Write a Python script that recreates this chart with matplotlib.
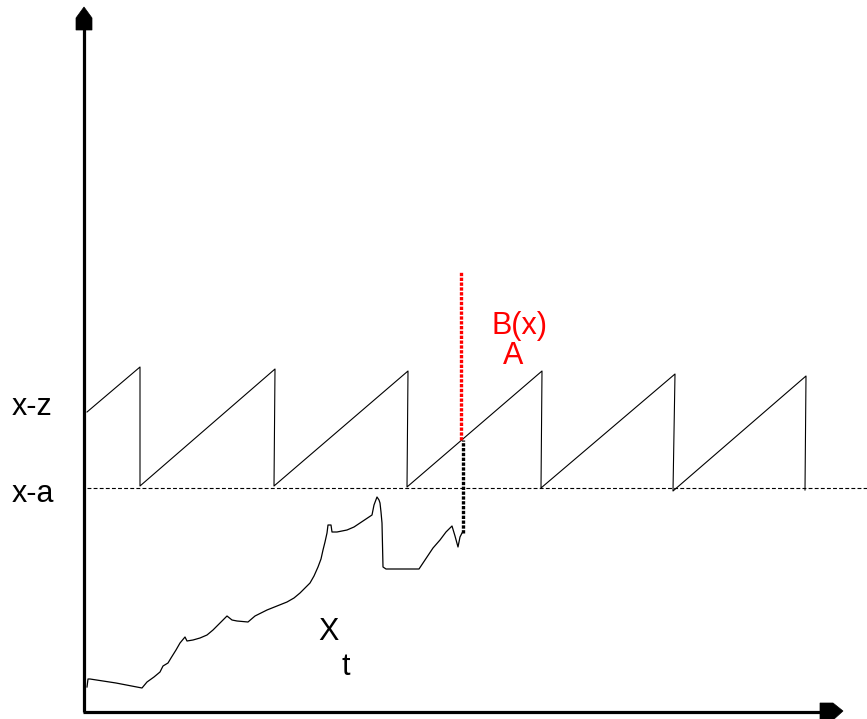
"""Sketch of a sawtooth barrier x-z / x-a and a rising path X_t hitting it."""

from __future__ import annotations

import matplotlib

matplotlib.use("Agg")

import matplotlib.pyplot as plt
import numpy as np
from matplotlib.patches import Polygon

# sawtooth barrier: (time, level) vertices
SAW_T = [1, 54, 54, 189, 188, 322, 321, 456, 455, 589, 587, 720, 719]
SAW_Y = [300, 345, 226, 343, 226, 341, 225, 341, 224, 338, 221, 336, 222]

# path X_t
PATH_T = [1, 2, 4, 30, 56, 61, 68, 74, 77, 82, 85, 90, 94, 99, 101, 107, 114, 121, 127, 134,
          141, 146, 151, 162, 169, 175, 181, 191, 201, 208, 214, 219, 224, 228, 232, 235,
          237, 239, 241, 242, 245, 246, 251, 261, 268, 274, 280, 286, 288, 291, 293, 294,
          295, 296, 297, 300, 333, 337, 341, 347, 354, 360, 366, 369, 372, 374, 376]
PATH_Y = [25, 33, 33, 29, 24, 30, 35, 40, 46, 49, 54, 62, 69, 75, 71, 72, 74, 77, 82, 89,
          96, 92, 91, 90, 96, 99, 102, 106, 110, 114, 119, 124, 129, 136, 145, 153,
          162, 170, 179, 187, 187, 180, 180, 182, 185, 189, 193, 197, 207, 215, 212, 209,
          200, 189, 145, 143, 143, 149, 155, 164, 172, 180, 186, 176, 165, 175, 179]

LEVEL_A = 224          # x-a
HIT_T = 375            # hitting time
RED_SPAN = [272, 440]  # red dotted segment above the hit
BLACK_SPAN = [179, 272]

LEVEL_LABELS = ["x-z", "x-a"]
LEVEL_LABEL_Y = [297, 210]

FONT = "Liberation Sans"
FS = 22


def draw_axes(ax: plt.Axes) -> None:
    ax.plot([-2, -2], [0, 690], color="black", lw=2.3, solid_capstyle="butt")
    ax.plot([-3, 740], [0.5, 0.5], color="black", lw=2.3, solid_capstyle="butt")
    up_head = np.array([[-2, 705], [6, 694], [6, 682], [-10, 682], [-10, 694]])
    right_head = np.array([[757, 1], [747, 9], [734, 9], [734, -8], [747, -8]])
    for head in (up_head, right_head):
        ax.add_patch(Polygon(head, closed=True, facecolor="black", edgecolor="black", lw=0.5))


def main() -> None:
    fig = plt.figure(figsize=(8.67, 7.19), dpi=100)
    ax = fig.add_axes([0, 0, 1, 1])
    ax.set_xlim(-86, 781)
    ax.set_ylim(-7, 712)
    ax.axis("off")

    draw_axes(ax)

    ax.plot([1, 781], [LEVEL_A, LEVEL_A], color="black", lw=0.8, linestyle=(0, (3.5, 2)))
    ax.plot(SAW_T, SAW_Y, color="black", lw=0.8)
    ax.plot(PATH_T, PATH_Y, color="black", lw=0.9, solid_joinstyle="round")

    ax.plot([HIT_T, HIT_T], RED_SPAN, color="#ff0000", lw=2.4, linestyle=(0, (1, 0.45)))
    ax.plot([HIT_T + 1.5, HIT_T + 1.5], BLACK_SPAN, color="black", lw=2.4, linestyle=(0, (1, 0.45)))

    for label, y in zip(LEVEL_LABELS, LEVEL_LABEL_Y):
        ax.text(-74, y, label, fontsize=FS, family=FONT, ha="left", va="baseline")

    ax.text(405, 378, "B(x)", fontsize=FS, family=FONT, color="#ff0000", ha="left", va="baseline")
    ax.text(417, 348, "A", fontsize=FS, family=FONT, color="#ff0000", ha="left", va="baseline")
    ax.text(232, 72, "X", fontsize=FS, family=FONT, ha="left", va="baseline")
    ax.text(256, 37, "t", fontsize=FS, family=FONT, ha="left", va="baseline")

    fig.savefig("out.png", dpi=100, facecolor="white")
    plt.close(fig)


if __name__ == "__main__":
    main()
